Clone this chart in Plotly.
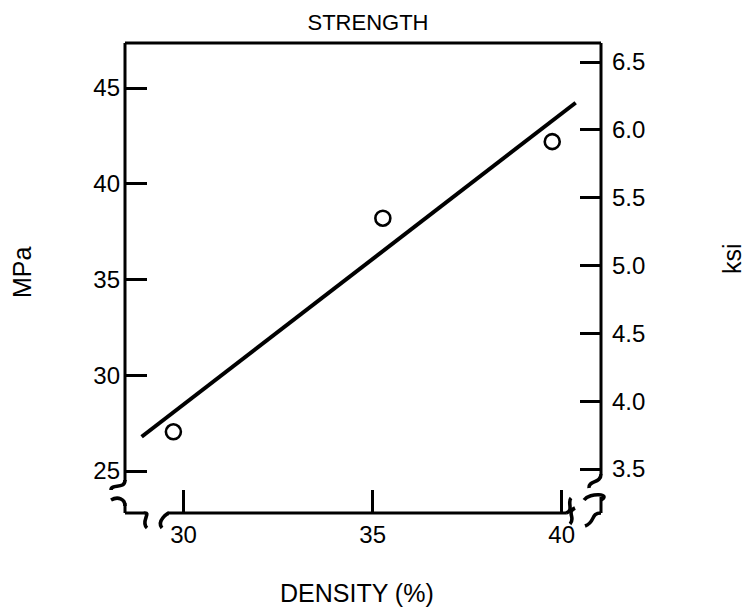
import plotly.graph_objects as go

# ---- data ----
density_pts = [29.73, 35.27, 39.75]          # DENSITY (%)
strength_pts = [27.05, 38.20, 42.20]         # MPa
fit_x = [28.89, 40.37]                       # fitted line ends (DENSITY %)
fit_y = [26.79, 44.23]                       # fitted line ends (MPa)

x_ticks = [30, 35, 40]
mpa_ticks = [25, 30, 35, 40, 45]
ksi_ticks = [3.5, 4.0, 4.5, 5.0, 5.5, 6.0, 6.5]
ksi_labels = ["3.5", "4.0", "4.5", "5.0", "5.5", "6.0", "6.5"]

W, H = 748, 612
L, R, T, B = 125, 601, 43, 513
FONT = "Liberation Sans, Arial, Helvetica, sans-serif"
FS = 24
FT = 25

fig = go.Figure()
fig.add_trace(go.Scatter(x=fit_x, y=fit_y, mode="lines",
                         line=dict(color="black", width=4), showlegend=False,
                         hoverinfo="skip"))
fig.add_trace(go.Scatter(x=density_pts, y=strength_pts, mode="markers",
                         marker=dict(symbol="circle-open", size=15, color="black",
                                     line=dict(width=2.6, color="black")),
                         showlegend=False))
# invisible trace for the secondary (ksi) axis
fig.add_trace(go.Scatter(x=[None], y=[None], yaxis="y2", showlegend=False,
                         hoverinfo="skip"))


def P(px, py):
    return (px - L) / (R - L), (B - py) / (B - T)


def line(p1, p2, w=3):
    x0, y0 = P(*p1)
    x1, y1 = P(*p2)
    return dict(type="line", xref="paper", yref="paper", x0=x0, y0=y0, x1=x1, y1=y1,
                line=dict(color="black", width=w))


def curve(pts, w=3.6):
    # pts: start, c1, c2, end  (cubic bezier) in pixel space
    q = [P(*p) for p in pts]
    path = "M {:.4f},{:.4f} C {:.4f},{:.4f} {:.4f},{:.4f} {:.4f},{:.4f}".format(
        q[0][0], q[0][1], q[1][0], q[1][1], q[2][0], q[2][1], q[3][0], q[3][1])
    return dict(type="path", xref="paper", yref="paper", path=path,
                line=dict(color="black", width=w))


shapes = [
    line((L, T), (R, T)),
    line((L, T), (L, 481)),
    line((R, T), (R, 474)),
    line((L, 503), (L, B)),
    line((L, B), (144, B)),
    line((169, B), (566, B)),
    line((R, 497), (R, 513)),
    # left axis break
    curve([(L, 480), (L, 490), (111, 483), (111, 490)]),
    curve([(111, 500), (118, 496), (L, 499), (L, 506)]),
    # bottom-left break
    curve([(144, B), (152, 512), (140, 522), (147, 528)]),
    curve([(162, 528), (156, 521), (168, 513), (169, B)]),
    # bottom-right break
    curve([(566, B), (574, 511), (567, 502), (571, 498)]),
    curve([(570, 524), (576, 518), (566, 512), (575, 508)]),
    # right axis break
    curve([(R, 474), (R, 484), (588, 480), (589, 488)]),
    curve([(584, 500), (590, 492), (612, 494), (R, 500)]),
    curve([(R, 513), (590, 513), (596, 522), (585, 526)]),
]

ann = []
x, y = P(357, 593)
ann.append(dict(text="DENSITY (%)", x=x, y=y, xref="paper", yref="paper",
                showarrow=False, font=dict(size=FT, color="black", family=FONT),
                xanchor="center", yanchor="middle"))
x, y = P(22, 272)
ann.append(dict(text="MPa", x=x, y=y, xref="paper", yref="paper", textangle=-90,
                showarrow=False, font=dict(size=FT, color="black", family=FONT),
                xanchor="center", yanchor="middle"))
x, y = P(732, 259)
ann.append(dict(text="ksi", x=x, y=y, xref="paper", yref="paper", textangle=-90,
                showarrow=False, font=dict(size=FT, color="black", family=FONT),
                xanchor="center", yanchor="middle"))

fig.update_layout(
    width=W, height=H,
    margin=dict(l=L, r=W - R, t=T, b=H - B, pad=0),
    paper_bgcolor="white", plot_bgcolor="white",
    font=dict(family=FONT, size=FS, color="black"),
    title=dict(text="STRENGTH", x=368 / W, y=1 - 22 / H, xanchor="center",
               yanchor="middle", font=dict(size=22, family=FONT, color="black")),
    xaxis=dict(range=[28.45, 41.04], tickvals=x_ticks, ticks="inside", ticklen=23,
               tickwidth=3, tickcolor="black", showline=False, showgrid=False,
               zeroline=False, ticklabelstandoff=5),
    yaxis=dict(range=[22.81, 47.35], tickvals=mpa_ticks, ticks="inside", ticklen=22,
               tickwidth=3, tickcolor="black", showline=False, showgrid=False,
               zeroline=False, ticklabelstandoff=4),
    yaxis2=dict(range=[3.176, 6.64], tickvals=ksi_ticks, ticktext=ksi_labels,
                overlaying="y", side="right", ticks="inside", ticklen=21,
                tickwidth=3, tickcolor="black", showline=False, showgrid=False,
                zeroline=False, ticklabelstandoff=10),
    shapes=shapes,
    annotations=ann,
)

fig.write_html("out.html")
